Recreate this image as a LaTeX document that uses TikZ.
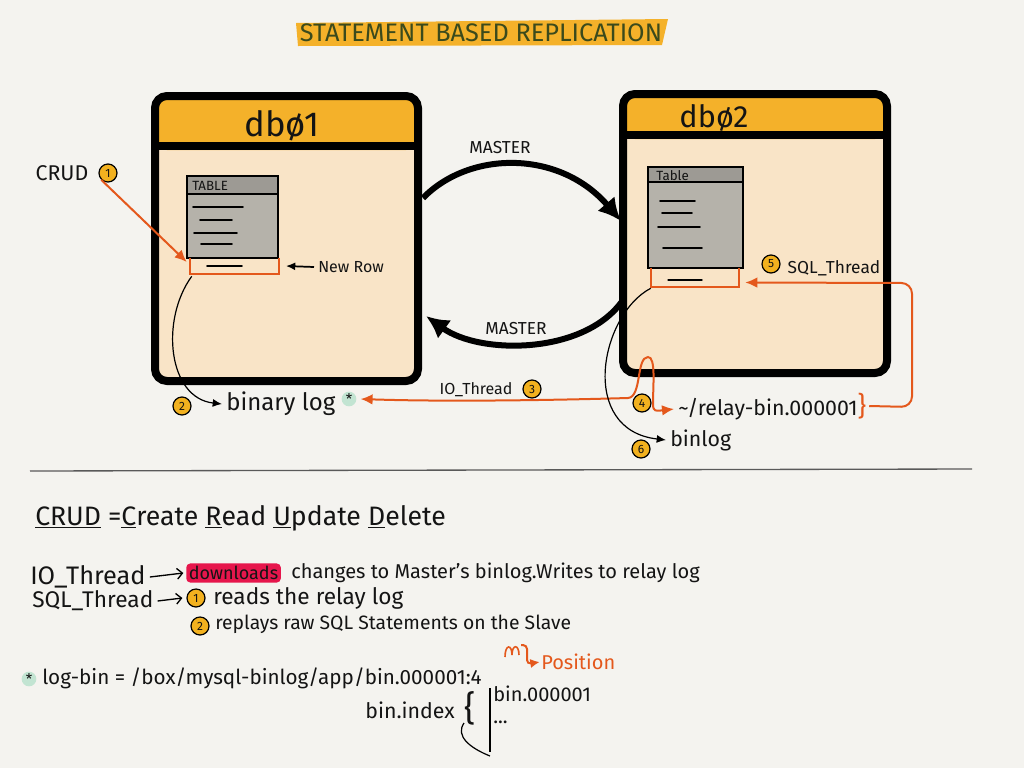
\documentclass[tikz,border=0pt]{standalone}
\usepackage{fontspec}
\setmainfont{Fira Sans}
\usetikzlibrary{arrows.meta,calc}

\definecolor{paper}{HTML}{F4F3EF}
\definecolor{hdr}{HTML}{F4B12A}
\definecolor{peach}{HTML}{F9E4C7}
\definecolor{tgrey}{HTML}{B5B2AA}
\definecolor{tgreyd}{HTML}{9D9A94}
\definecolor{orng}{HTML}{E4581C}
\definecolor{ttl}{HTML}{3B4A1C}
\definecolor{hl}{HTML}{E6164C}
\definecolor{mint}{HTML}{C2E4D2}
\definecolor{badgec}{HTML}{F2B11F}
\definecolor{ink}{HTML}{141414}

\newcommand{\fsz}[1]{\fontsize{#1}{#1}\selectfont}

\begin{document}
\begin{tikzpicture}[x=0.75pt,y=-0.75pt,
  every node/.style={inner sep=0pt, text=ink},
  dbbox/.style={draw=black, line width=6pt, rounded corners=9pt, fill=peach},
  tbl/.style={draw=black, line width=1.3pt, fill=tgrey},
  badge/.style={circle, draw=black, line width=0.9pt, fill=badgec, minimum size=13.5pt, font=\fsz{9}},
  oline/.style={draw=orng, line width=1.5pt},
  otip/.style={-{Latex[length=9pt,width=8pt]}},
  thinarrow/.style={draw=black, line width=0.9pt, -{Latex[length=7pt,width=6pt]}},
  master/.style={draw=black, line width=4.5pt, -{Latex[length=17pt,width=17pt]}},
  hand/.style={font=\fsz{#1}},
  rowline/.style={draw=black, line width=1.2pt, line cap=round},
  star/.style={circle, fill=mint, minimum size=11pt, font=\fsz{11}},
]
% paper
\fill[paper] (0,0) rectangle (1024,768);
\useasboundingbox (0,0) rectangle (1024,768);

% title banner
\fill[hdr] (296,23) -- (668,19) -- (662,45) -- (298,46) -- cycle;
\node[hand=19, text=ttl] (title) at (481,33) {STATEMENT BASED REPLICATION};

% ---------- db01 ----------
\node[dbbox, minimum width=197.25pt, minimum height=213.75pt,
  path picture={\fill[hdr] (path picture bounding box.north west) rectangle ([yshift=-40.5pt]path picture bounding box.north east);}]
  (db1) at (286.5,238.5) {};
\draw[line width=6pt] ([yshift=-40.5pt]db1.north west) -- ([yshift=-40.5pt]db1.north east);
\node[hand=26] (db1name) at (282,126) {dbø1};

% table in db01
\node[tbl, minimum width=68.25pt, minimum height=61.5pt,
  path picture={\fill[tgreyd] (path picture bounding box.north west) rectangle ([yshift=-14.25pt]path picture bounding box.north east);}]
  (t1) at (232.5,217) {};
\draw[line width=1.3pt] ([yshift=-14.25pt]t1.north west) -- ([yshift=-14.25pt]t1.north east);
\node[hand=10, anchor=west] (t1name) at (192,186) {TABLE};
\draw[rowline] (193,207) -- (243,207);
\draw[rowline] (200,220) -- (232,220);
\draw[rowline] (194,233) -- (237,233);
\draw[rowline] (201,244) -- (232,244);

% new row in db01
\node[minimum width=66.75pt, minimum height=12pt] (row1) at (234.5,266) {};
\draw[oline] (row1.north west) -- (row1.south west) -- (row1.south east) -- (row1.north east);
\draw[rowline] (207,266) -- (242,266);
\node[hand=12, anchor=west] (newrow) at (318,267) {New Row};
\draw[thinarrow, line width=1.3pt] ([xshift=-3pt]newrow.west) -- ([xshift=5pt]row1.east);

% CRUD entry
\node[hand=16] (crud) at (62,173) {CRUD};
\node[badge] (b1) at (108,173) {1};
\draw[oline, otip] (b1.south west) -- ($(row1.west)+(-3,-4)$);

% ---------- db02 ----------
\node[dbbox, minimum width=198pt, minimum height=209.25pt,
  path picture={\fill[hdr] (path picture bounding box.north west) rectangle ([yshift=-33.75pt]path picture bounding box.north east);}]
  (db2) at (755,233.5) {};
\draw[line width=6pt] ([yshift=-33.75pt]db2.north west) -- ([yshift=-33.75pt]db2.north east);
\node[hand=23] (db2name) at (714,118) {dbø2};

% table in db02
\node[tbl, minimum width=71.25pt, minimum height=75.75pt,
  path picture={\fill[tgreyd] (path picture bounding box.north west) rectangle ([yshift=-12pt]path picture bounding box.north east);}]
  (t2) at (695.5,217.5) {};
\draw[line width=1.3pt] ([yshift=-12pt]t2.north west) -- ([yshift=-12pt]t2.north east);
\node[hand=10, anchor=west] (t2name) at (656,176) {Table};
\draw[rowline] (660,201) -- (695,201);
\draw[rowline] (662,213) -- (692,213);
\draw[rowline] (658,227) -- (700,227);
\draw[rowline] (663,248) -- (702,248);

\node[minimum width=66pt, minimum height=14.25pt] (row2) at (695,277.5) {};
\draw[oline] (row2.north west) -- (row2.south west) -- (row2.south east) -- (row2.north east);
\draw[rowline, line width=1pt] (668,280) -- (702,280);

% ---------- MASTER arrows ----------
\coordinate (mA) at (423,198);
\coordinate (mB) at (621,221);
\draw[master] (mA) .. controls (470,150) and (560,150) .. (mB);
\node[hand=13] (mlab1) at (500,148) {MASTER};
\coordinate (mC) at (623,300);
\coordinate (mD) at (426,316);
\draw[master] (mC) .. controls (585,355) and (480,355) .. (mD);
\node[hand=13] (mlab2) at (516,329) {MASTER};

% ---------- logs ----------
\node[hand=18, anchor=west] (blog) at (226,404) {binary log};
\node[star] (ast) at (349,399) {*};
\node[badge] (b2) at (182,406) {2};
\draw[thinarrow] ([shift={(2,2)}]row1.south west) .. controls (160,320) and (168,398) .. ([xshift=-3pt]blog.west);

\node[hand=16, anchor=west] (relay) at (678,409) {\textasciitilde/relay-bin.000001};
\node[hand=12] (io) at (476,390) {IO\_Thread};
\node[badge] (b3) at (532,389) {3};
\draw[oline, {Latex[length=9pt,width=8pt]}-{Latex[length=9pt,width=8pt]}]
  ([xshift=3pt]ast.east) .. controls (450,402) and (560,400) .. (628,398)
  .. controls (642,397) and (636,357) .. (648,357)
  .. controls (656,357) and (653,385) .. (653,404)
  .. controls (653,412) and (656,411) .. ([xshift=-3pt]relay.west);
\node[badge] (b4) at (642,403) {4};

\node[hand=20, text=orng] (br) at (862,406) {\}};
\draw[oline, otip, rounded corners=8pt] ([xshift=2pt]br.east) -- (912,407) -- (912,283) -- ([shift={(6,5)}]row2.east);
\node[hand=13] (sqlt) at (834,268) {SQL\_Thread};
\node[badge] (b5) at (771,264) {5};

\node[hand=16, anchor=west] (binlog) at (670,440) {binlog};
\node[badge] (b6) at (641,449) {6};
\draw[thinarrow] ([shift={(0,1)}]row2.south west) .. controls (600,315) and (578,430) .. ([xshift=-3pt]binlog.west);

% divider
\draw[line width=1pt, gray!70!black] (30,471) -- (972,469);

% ---------- notes ----------
\node[hand=20, anchor=west] (crudline) at (35,518)
  {\underline{CRUD} =\underline{C}reate \underline{R}ead \underline{U}pdate \underline{D}elete};

\node[hand=19, anchor=west] (io2) at (30,577) {IO\_Thread};
\node[fill=hl, rounded corners=3pt, inner xsep=2pt, inner ysep=2pt, hand=13.5, anchor=west] (dl) at (186,573) {downloads};
\draw[line width=1pt, -{Straight Barb[length=4pt]}] ([xshift=3pt]io2.east) -- ([xshift=-2pt]dl.west);
\node[hand=15, anchor=west] (rest) at (291,573) {changes to Master's binlog.Writes to relay log};

\node[hand=17, anchor=west] (sql2) at (32,601) {SQL\_Thread};
\node[badge] (b7) at (196,598) {1};
\draw[line width=1pt, -{Straight Barb[length=4pt]}] ([xshift=3pt]sql2.east) -- ([xshift=-3pt]b7.west);
\node[hand=17, anchor=west] (reads) at (213,598) {reads the relay log};
\node[badge] (b8) at (200,626) {2};
\node[hand=14.5, anchor=west] (replays) at (215,624) {replays raw SQL Statements on the Slave};

\node[star] (ast2) at (29,679) {*};
\node[hand=15.5, anchor=west] (logbin) at (42,678) {log-bin = /box/mysql-binlog/app/bin.000001:4};
\node[hand=15, text=orng, anchor=west] (pos) at (541,662) {Position};
\draw[oline, line width=1.2pt] (505,657) .. controls (505,644) and (512,644) .. (512,655)
  .. controls (512,644) and (519,644) .. (519,655);
\draw[oline, -{Latex[length=7pt,width=7pt]}, rounded corners=3pt] (521,645) -- (527,645) -- (527,664) -- ([xshift=-1pt]pos.west);

\node[hand=16, anchor=east] (binidx) at (455,710) {bin.index};
\node[hand=26] (br2) at (470,708) {\{};
\draw[line width=0.9pt] (464,723) .. controls (455,736) and (470,748) .. (490,756);
\draw[line width=0.9pt] (490,688) -- (490,752);
\node[hand=15, anchor=west] (b01) at (493,694) {bin.000001};
\node[hand=15, anchor=west] (dots) at (493,722) {...};
\end{tikzpicture}
\end{document}
